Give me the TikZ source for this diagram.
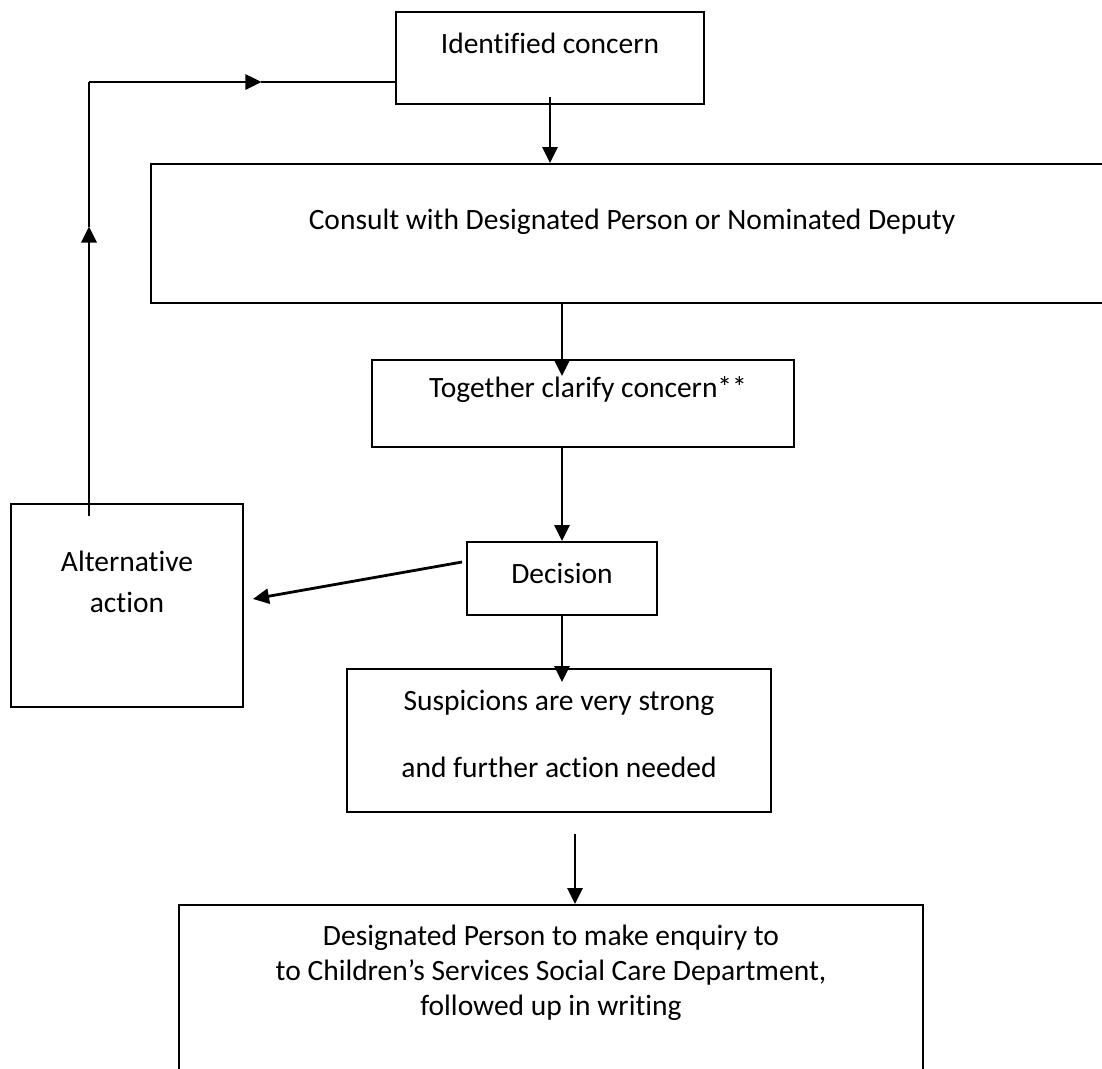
\documentclass[tikz,border=0pt]{standalone}
\usepackage{fontspec}
\setmainfont[Ligatures=NoCommon]{Carlito}
\usetikzlibrary{positioning, arrows.meta, calc}

\begin{document}
\begin{tikzpicture}[
  x=1pt, y=-1pt,
  font=\fontsize{29.5}{35}\selectfont,
  box/.style={draw, line width=2pt, inner sep=0pt},
  txt/.style={align=center, inner sep=0pt},
  flow/.style={line width=2.8pt, -{Triangle[length=16pt, width=15pt]}},
  thinline/.style={line width=1.6pt},
]
  \useasboundingbox (0,0) rectangle (1102,1068);

  % Boxes (pixel grid of the page, y pointing down)
  \node[box, minimum width=308pt, minimum height=92pt]  (ident)    at (550,58)    {};
  \node[box, minimum width=961pt, minimum height=139pt] (consult)  at (631.5,233.5) {};
  \node[box, minimum width=422pt, minimum height=87pt]  (together) at (583,403.5) {};
  \node[box, minimum width=190pt, minimum height=73pt]  (decision) at (562,578.5) {};
  \node[box, minimum width=232pt, minimum height=203pt] (alt)      at (127,605.5) {};
  \node[box, minimum width=424pt, minimum height=143pt] (susp)     at (559,740.5) {};
  \node[box, minimum width=744pt, minimum height=185pt] (final)    at (551,997.5) {};

  % Texts
  \node[txt] (identtxt)    at (550,43)  {Identified concern};
  \node[txt] (consulttxt)  at (632,222) {Consult with Designated Person or Nominated Deputy};
  \node[txt] (togethertxt) at (588,390) {Together clarify concern**};
  \node[txt] (decisiontxt) at (562,573) {Decision};
  \node[txt] (alttxt)      at (127,582) {Alternative\\[6pt]action};
  \node[txt] (susptxt)     at (559,733.5) {Suspicions are very strong\\[32pt]and further action needed};
  \node[txt] (finaltxt)    at (551,973) {Designated Person to make enquiry to\\
    to Children’s Services Social Care Department,\\followed up in writing};

  % Main flow
  \draw[flow] ($(ident.south)+(0,-8)$) -- (ident.south |- consult.north);
  \draw[flow] (consult.south -| decision) -- ($(together.north -| decision)+(0,17)$);
  \draw[flow] (together.south -| decision) -- (decision.north);
  \draw[flow] ($(decision.west)+(-4,-16.5)$) -- ($(alt.east)+(9,-6.5)$);
  \draw[flow] (decision.south) -- ($(susp.north -| decision)+(0,14)$);
  \coordinate (drop) at ($(susp.south)+(16,21)$);
  \draw[flow] (drop) -- (drop |- final.north);

  % Loop back to the concern
  \coordinate (loopstart) at ($(alt.north)+(-38,13)$);
  \coordinate (entry) at ($(ident.west)+(0,24)$);
  \coordinate (corner) at (loopstart |- entry);
  \coordinate (uptip) at ($(loopstart)!0.667!(corner)$);
  \coordinate (righttip) at ($(corner)!0.5635!(entry)$);
  \draw[flow] (loopstart) -- (uptip);
  \draw[thinline] (uptip) -- (corner);
  \draw[flow] (corner) -- (righttip);
  \draw[thinline] (righttip) -- (entry);
\end{tikzpicture}
\end{document}
